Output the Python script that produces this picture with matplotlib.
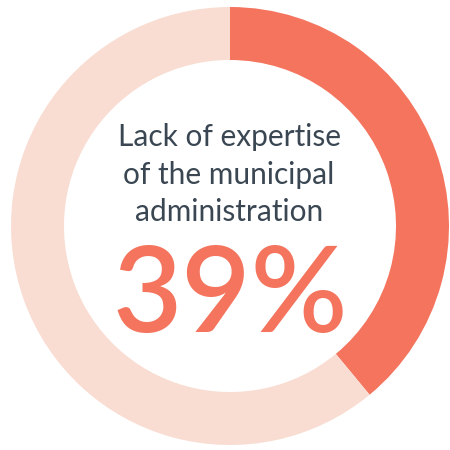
import matplotlib.pyplot as plt

# share of respondents
labels = ["Lack of expertise of the municipal administration", "Other"]
values = [39, 61]
colors = ["#F4745E", "#F9DDD3"]
title_lines = ["Lack of expertise", "of the municipal", "administration"]
big_label = "39%"

fig = plt.figure(figsize=(4.5, 4.5), dpi=100)
ax = fig.add_axes([0, 0, 1, 1])
ax.set_xlim(0, 450)
ax.set_ylim(0, 450)
ax.set_aspect("equal")
ax.axis("off")

ax.pie(values, colors=colors, startangle=90, counterclock=False,
       center=(230, 224), radius=219,
       wedgeprops=dict(width=53, linewidth=0))
ax.set_xlim(0, 450)
ax.set_ylim(0, 450)

ys = [313, 275, 238]
for line, y in zip(title_lines, ys):
    ax.text(229, y, line, ha="center", va="center", fontsize=21.5,
            family="Lato", fontweight="normal", color="#3A4753")

ax.text(230, 152, big_label, ha="center", va="center", fontsize=86,
        family="Lato", fontweight="semibold", color="#F4745E")

fig.savefig("out.png", dpi=100)
